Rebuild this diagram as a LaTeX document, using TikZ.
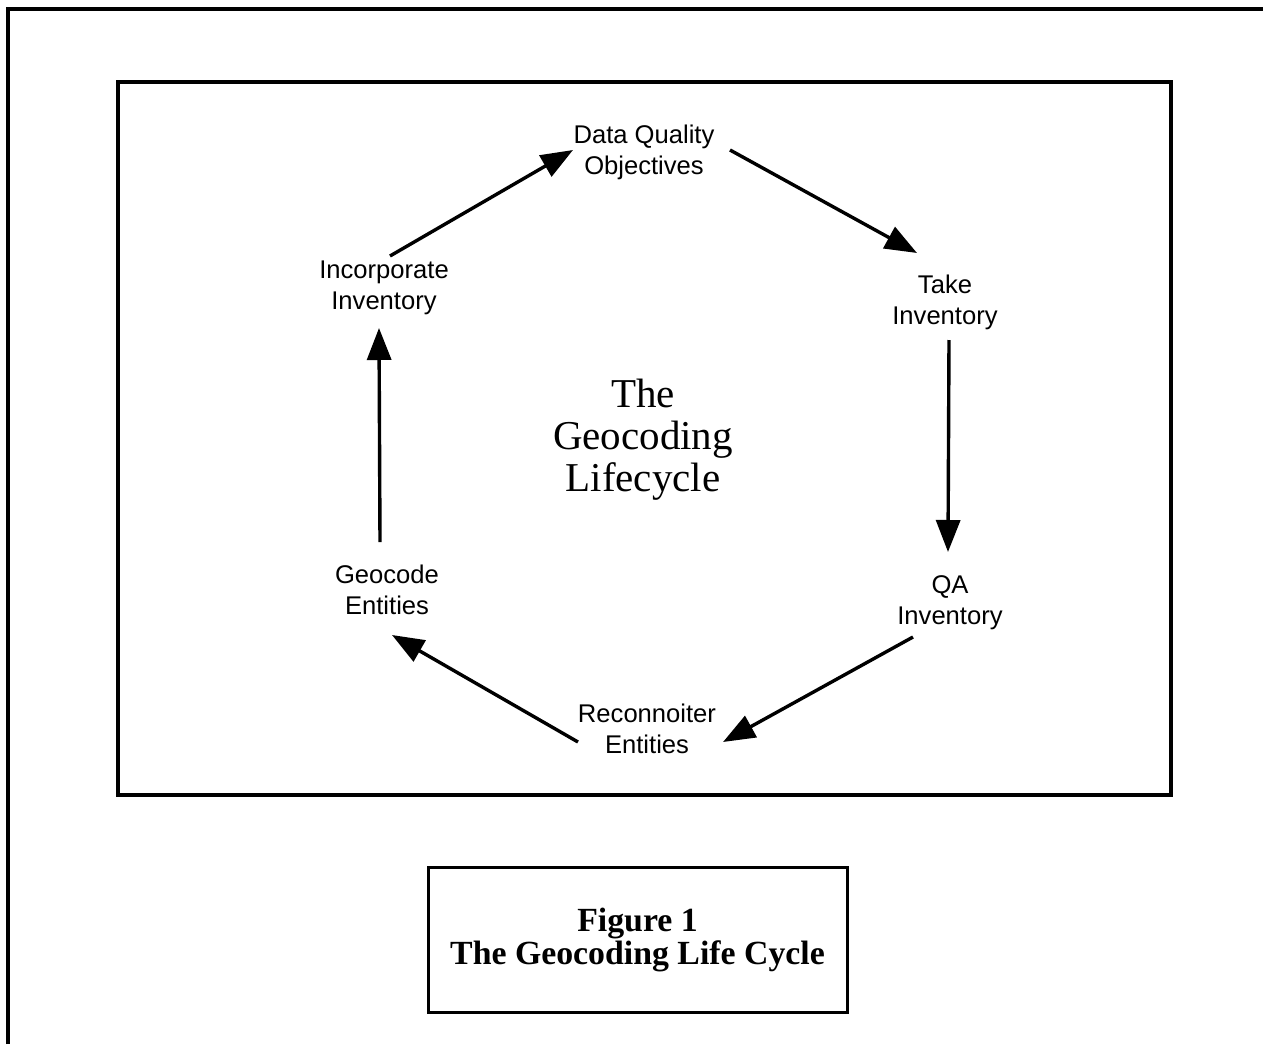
\documentclass[tikz,border=0pt]{standalone}
\usepackage{fontspec}
\usepackage{tikz}
\usetikzlibrary{calc}
\usetikzlibrary{arrows.meta}
\usetikzlibrary{positioning}
\newfontfamily\labelfont{Liberation Sans}
\newfontfamily\titlefont{Liberation Serif}
\tikzset{>={Triangle[length=16pt, width=12pt]}}
\tikzset{step label/.style = {draw=none, inner sep = 0, align=center, font=\labelfont\fontsize{12.8}{15.5}\selectfont}}
\tikzset{flow/.style = {->, line width=1.7pt}}

\begin{document}
\begin{tikzpicture}[x=0.5pt, y=-0.5pt]
\useasboundingbox (0,0) rectangle (1263,1044);
% frames
\draw [line width=1.8pt] (8,1044) -- (8,9) -- (1263,9);
\draw [line width=2pt] (118,82) rectangle (1171,795);
% steps of the cycle
\node [step label] (DQO) at (644, 152) {Data Quality\\Objectives};
\node [step label] (TI)  at (945, 302) {Take\\Inventory};
\node [step label] (QA)  at (950, 603) {QA\\Inventory};
\node [step label] (RE)  at (647, 729) {Reconnoiter\\Entities};
\node [step label] (GE)  at (387, 590) {Geocode\\Entities};
\node [step label] (II)  at (384, 288) {Incorporate\\Inventory};
\node [draw=none, inner sep = 0, align=center, font=\titlefont\fontsize{20.5}{21}\selectfont] (LC) at (643, 440) {The\\Geocoding\\Lifecycle};
\draw [flow] ([shift={(6,-32)}]II.center) to ([shift={(-71,-2)}]DQO.center);
\draw [flow] ([shift={(86,-2)}]DQO.center) to ([shift={(-28,-49)}]TI.center);
\draw [flow] ([shift={(4,38)}]TI.center) to ([shift={(-2,-51)}]QA.center);
\draw [flow] ([shift={(-37,34)}]QA.center) to ([shift={(76,13)}]RE.center);
\draw [flow] ([shift={(-69,13)}]RE.center) to ([shift={(5,45)}]GE.center);
\draw [flow] ([shift={(-7,-48)}]GE.center) to ([shift={(-5,40)}]II.center);
% caption
\node [draw, line width=1.5pt, minimum width=209.5pt, minimum height=72.5pt, align=center, font=\titlefont\bfseries\fontsize{16.9}{16.5}\selectfont] (CAP) at (637.5, 939.5) {Figure 1\\The Geocoding Life Cycle};
\end{tikzpicture}
\end{document}
